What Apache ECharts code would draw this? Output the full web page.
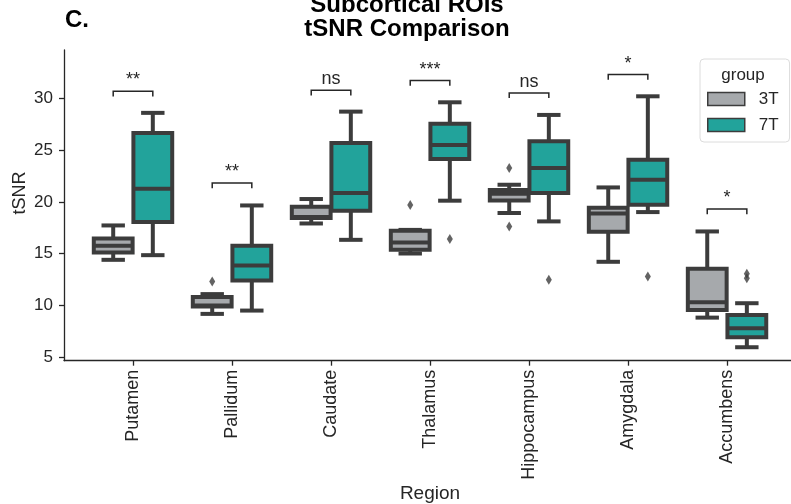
<!DOCTYPE html>
<html>
<head>
<meta charset="utf-8">
<script src="https://cdn.jsdelivr.net/npm/echarts@6/dist/echarts.min.js"></script>
<style>
  html, body { margin: 0; padding: 0; background: #fff; }
  #chart { width: 791px; height: 504px; }
</style>
</head>
<body>
<div id="chart"></div>
<script>
// ---- data ----
const categories = ['Putamen', 'Pallidum', 'Caudate', 'Thalamus', 'Hippocampus', 'Amygdala', 'Accumbens'];
// each row: [lowerWhisker, q1, median, q3, upperWhisker]
const box3T = [
  [14.41, 15.12, 15.77, 16.47, 17.73],
  [9.19, 9.90, 10.00, 10.83, 11.10],
  [17.92, 18.45, 18.55, 19.54, 20.28],
  [15.02, 15.38, 16.08, 17.21, 17.30],
  [18.93, 20.15, 20.80, 21.15, 21.66],
  [14.22, 17.12, 18.89, 19.44, 21.40],
  [8.83, 9.57, 10.32, 13.54, 17.15]
];
const box7T = [
  [14.86, 18.06, 21.28, 26.66, 28.60],
  [9.51, 12.41, 13.86, 15.76, 19.66],
  [16.34, 19.15, 20.86, 25.70, 28.72],
  [20.12, 24.15, 25.50, 27.56, 29.62],
  [18.12, 20.86, 23.28, 25.85, 28.40],
  [19.02, 19.73, 22.15, 24.08, 30.20],
  [5.97, 6.93, 7.80, 9.09, 10.22]
];
// outliers: [categoryIndex, value]
const outliers3T = [[1, 12.31], [3, 19.70], [4, 23.28], [4, 17.63]];
const outliers7T = [[3, 16.41], [4, 12.48], [5, 12.80], [6, 13.06], [6, 12.64]];
// significance annotations
const sigLabels = ['**', '**', 'ns', '***', 'ns', '*', '*'];
const sigY = [30.69, 21.83, 30.78, 31.72, 30.53, 32.30, 19.31];
const yTicks = [5, 10, 15, 20, 25, 30];
const groups = ['3T', '7T'];

// ---- style ----
const FONT = 'Liberation Sans, Arial, sans-serif';
const EDGE = '#3c3c3c';
const TEXT = '#262626';
const COLORS = { '3T': '#a6a9ac', '7T': '#22a39b' };
const OFFSET = { '3T': -0.2, '7T': 0.2 };
const BOX_W = 0.392;

function boxSeries(name, boxes) {
  const off = OFFSET[name];
  return {
    type: 'custom',
    name: name,
    data: boxes.map((b, i) => [i].concat(b)),
    encode: { x: 0, y: [1, 2, 3, 4, 5] },
    z: 3,
    renderItem: function (params, api) {
      const c = api.value(0) + off;
      const lo = api.value(1), q1 = api.value(2), med = api.value(3), q3 = api.value(4), hi = api.value(5);
      const half = BOX_W / 2, capHalf = BOX_W / 4;
      const p = (x, y) => api.coord([x, y]);
      const ls = { stroke: EDGE, lineWidth: 4, lineCap: 'butt' };
      const cs = { stroke: EDGE, lineWidth: 4, lineCap: 'square' };
      const line = (a, b, st) => ({ type: 'line', shape: { x1: a[0], y1: a[1], x2: b[0], y2: b[1] }, style: st });
      const tl = p(c - half, q3), br = p(c + half, q1);
      return {
        type: 'group',
        children: [
          line(p(c, lo), p(c, q1), ls),
          line(p(c, q3), p(c, hi), ls),
          line(p(c - capHalf, lo), p(c + capHalf, lo), cs),
          line(p(c - capHalf, hi), p(c + capHalf, hi), cs),
          { type: 'rect', shape: { x: tl[0], y: tl[1], width: br[0] - tl[0], height: br[1] - tl[1] },
            style: { fill: COLORS[name], stroke: EDGE, lineWidth: 4 } },
          line(p(c - half, med), p(c + half, med), ls)
        ]
      };
    }
  };
}

function outlierSeries(name, pts) {
  return {
    type: 'scatter',
    name: name + ' outliers',
    data: pts.map(([c, v]) => [c + OFFSET[name], v]),
    symbol: 'diamond',
    symbolSize: [6, 10],
    itemStyle: { color: EDGE },
    z: 4,
    silent: true
  };
}

const sigSeries = {
  type: 'custom',
  name: 'sig',
  data: sigY.map((y, i) => [i, y]),
  encode: { x: 0, y: 1 },
  z: 5,
  renderItem: function (params, api) {
    const c = api.value(0), y = api.value(1);
    const p = (x, v) => api.coord([x, v]);
    const a = p(c + OFFSET['3T'], y - 0.5), b = p(c + OFFSET['3T'], y), d = p(c + OFFSET['7T'], y), e = p(c + OFFSET['7T'], y - 0.5);
    const mid = p(c, y);
    return {
      type: 'group',
      children: [
        { type: 'polyline', shape: { points: [a, b, d, e] }, style: { stroke: TEXT, lineWidth: 1.5, fill: null } },
        { type: 'text', x: mid[0], y: mid[1] - 2,
          style: { text: sigLabels[params.dataIndex], align: 'center', verticalAlign: 'bottom',
                   font: '18px ' + FONT, fill: TEXT } }
      ]
    };
  }
};

const chart = echarts.init(document.getElementById('chart'));
chart.setOption({
  animation: false,
  backgroundColor: '#ffffff',
  grid: { left: 64, right: 0, top: 50, bottom: 143.3, containLabel: false },
  xAxis: {
    type: 'value',
    min: -0.697,
    max: 6.646,
    splitLine: { show: false },
    axisLine: { show: true, onZero: false, lineStyle: { color: TEXT, width: 1.3 } },
    axisTick: { show: true, customValues: categories.map((_, i) => i), length: 5, lineStyle: { color: TEXT, width: 1.3 } },
    axisLabel: {
      customValues: categories.map((_, i) => i),
      formatter: v => categories[Math.round(v)],
      rotate: 90, margin: 9,
      color: TEXT, fontSize: 18, fontFamily: FONT
    }
  },
  yAxis: {
    type: 'value',
    min: 4.67,
    max: 34.67,
    splitLine: { show: false },
    axisLine: { show: true, onZero: false, lineStyle: { color: TEXT, width: 1.3 } },
    axisTick: { show: true, customValues: yTicks, length: 5, lineStyle: { color: TEXT, width: 1.3 } },
    axisLabel: { customValues: yTicks, margin: 11, color: TEXT, fontSize: 17, fontFamily: FONT }
  },
  legend: {
    left: 700, top: 59,
    orient: 'vertical',
    selectedMode: false,
    padding: [30, 11, 7, 7],
    itemGap: 6,
    itemWidth: 37, itemHeight: 13,
    backgroundColor: '#ffffff',
    borderColor: '#dcdcdc', borderWidth: 1, borderRadius: 4,
    textStyle: { fontSize: 17, fontFamily: FONT, color: TEXT, lineHeight: 20, padding: [0, 0, 0, 9] },
    data: groups.map(g => ({ name: g, icon: 'rect', itemStyle: { color: COLORS[g], borderColor: EDGE, borderWidth: 1.5 } }))
  },
  graphic: [
    { type: 'text', left: 65, top: 8, z: 100,
      style: { text: 'C.', font: 'bold 24px ' + FONT, fill: '#000' } },
    { type: 'text', x: 407, y: 41, z: 100,
      style: { text: 'Subcortical ROIs\ntSNR Comparison', font: 'bold 24px ' + FONT, lineHeight: 24,
               align: 'center', verticalAlign: 'bottom', fill: '#000' } },
    { type: 'text', x: 743, y: 75, z: 100,
      style: { text: 'group', font: '17px ' + FONT, align: 'center', verticalAlign: 'middle', fill: TEXT } },
    { type: 'text', x: 20, y: 193, rotation: Math.PI / 2, z: 100,
      style: { text: 'tSNR', font: '18px ' + FONT, align: 'center', verticalAlign: 'middle', fill: TEXT } },
    { type: 'text', x: 430, y: 494, z: 100,
      style: { text: 'Region', font: '19px ' + FONT, align: 'center', verticalAlign: 'middle', fill: TEXT } }
  ],
  series: [
    boxSeries('3T', box3T),
    boxSeries('7T', box7T),
    outlierSeries('3T', outliers3T),
    outlierSeries('7T', outliers7T),
    sigSeries
  ]
});
</script>
</body>
</html>
